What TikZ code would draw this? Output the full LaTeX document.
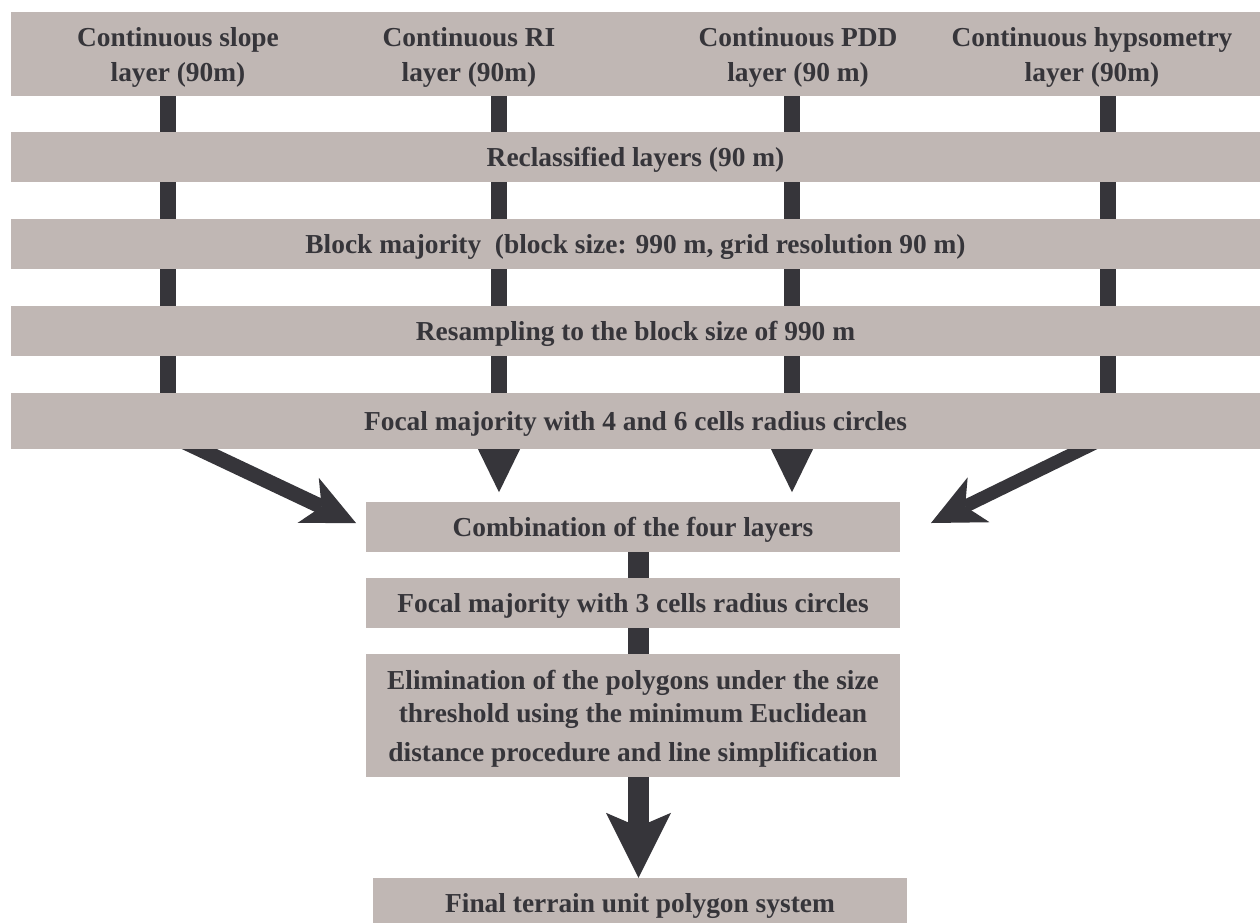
\documentclass[tikz,border=0pt]{standalone}
\usepackage{fontspec}
\setmainfont{Liberation Serif}
\usetikzlibrary{arrows.meta}
\definecolor{boxfill}{RGB}{192,183,180}
\definecolor{ink}{RGB}{54,53,58}
\pgfdeclarelayer{bg}
\pgfsetlayers{bg,main}
\begin{document}
\begin{tikzpicture}[x=1pt,y=-1pt,
  txt/.style={inner sep=0pt, text=ink, align=center, text depth=0pt,
    font=\bfseries\fontsize{27.4}{35}\selectfont},
  box/.style={txt, fill=boxfill, minimum width=534pt, minimum height=50pt},
  bar/.style={txt, fill=boxfill, minimum width=1249pt, minimum height=50pt},
  vconn/.style={draw=ink, line width=16pt},
  mconn/.style={draw=ink, line width=21pt},
  diag/.style={draw=ink, -{Stealth[length=53pt,width=50pt,inset=15pt,line width=0pt]}},
  bigarrow/.style={draw=ink, line width=21pt, -{Stealth[length=65pt,width=65pt,inset=14pt,line width=0pt]}}
]
\clip (0,0) rectangle (1260,922);
\begin{pgfonlayer}{bg}
  \fill[white] (0,0) rectangle (1260,922);
\end{pgfonlayer}

% bars
\node[bar, minimum height=84pt] (top) at (635.5,54) {};
\node[txt] (t1) at (178,54) {Continuous slope\\layer (90m)};
\node[txt] (t2) at (469,54) {Continuous RI\\layer (90m)};
\node[txt] (t3) at (798,54) {Continuous PDD\\layer (90 m)};
\node[txt] (t4) at (1092,54) {Continuous hypsometry\\layer (90m)};
\node[bar] (rec) at (635.5,157) {Reclassified layers (90 m)};
\node[bar] (blk) at (635.5,244) {Block majority \ (block size: 990 m, grid resolution 90 m)};
\node[bar] (res) at (635.5,331) {Resampling to the block size of 990 m};
\node[bar, minimum height=56pt] (foc) at (635.5,421) {Focal majority with 4 and 6 cells radius circles};

% lower boxes
\node[box] (comb) at (633,527) {Combination of the four layers};
\node[box] (foc3) at (633,603) {Focal majority with 3 cells radius circles};
\node[box, minimum height=123pt, font=\bfseries\fontsize{27.4}{33}\selectfont] (elim) at (633,715.5)
  {Elimination of the polygons under the size\\threshold using the minimum Euclidean\\[6pt]distance procedure and line simplification};
\node[box] (final) at (640,903) {Final terrain unit polygon system};

% column positions
\coordinate (x1) at (168,0);
\coordinate (x2) at (499,0);
\coordinate (x3) at (792,0);
\coordinate (x4) at (1108,0);
\coordinate (xm) at (638.5,0);

\foreach \c in {x1,x2,x3,x4} {
  \draw[vconn] (\c |- top.south) -- (\c |- rec.north);
  \draw[vconn] (\c |- rec.south) -- (\c |- blk.north);
  \draw[vconn] (\c |- blk.south) -- (\c |- res.north);
  \draw[vconn] (\c |- res.south) -- (\c |- foc.north);
}

% middle arrow heads
\foreach \c in {x2,x3}
  \fill[ink] (\c |- foc.south) ++(-21,0) -- ++(42,0) -- ++(-21,43) -- cycle;

% diagonal arrows
\coordinate (ls) at (140,421);
\coordinate (lt) at (356,523);
\coordinate (rs) at (1140,421);
\coordinate (rt) at (931,523);
\begin{pgfonlayer}{bg}
  \draw[diag, line width=15pt] (ls) -- (lt);
  \draw[diag, line width=13pt] (rs) -- (rt);
\end{pgfonlayer}

% central chain
\draw[mconn] (xm |- comb.south) -- (xm |- foc3.north);
\draw[mconn] (xm |- foc3.south) -- (xm |- elim.north);
\draw[bigarrow] (xm |- elim.south) -- (xm |- final.north);
\end{tikzpicture}
\end{document}
